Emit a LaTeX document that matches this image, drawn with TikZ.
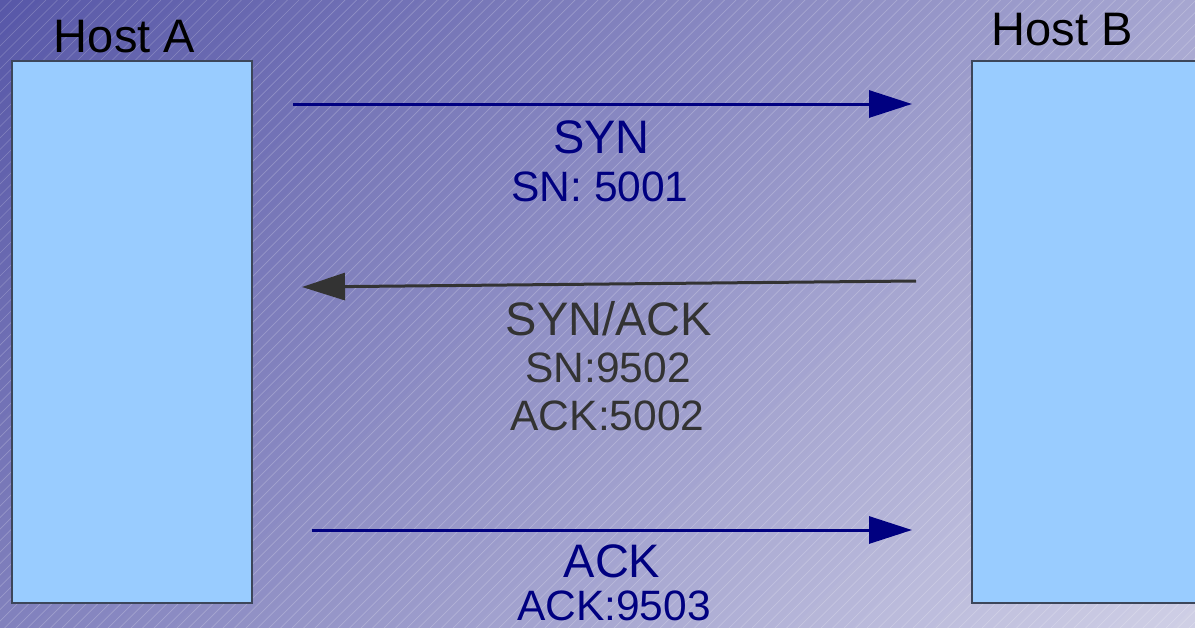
\documentclass[tikz,border=0pt]{standalone}
\usepackage{fontspec}
\setmainfont{Liberation Sans}
\usetikzlibrary{arrows.meta}
\definecolor{bgA}{RGB}{88,88,168}
\definecolor{bgB}{RGB}{208,208,230}
\definecolor{hostfill}{RGB}{153,204,255}
\definecolor{hostedge}{RGB}{60,70,90}
\definecolor{navyc}{RGB}{0,0,128}
\definecolor{darkc}{RGB}{51,51,51}
\tikzset{
  hostbox/.style={draw=hostedge, line width=1.2pt, fill=hostfill, inner sep=0pt,
    minimum width=240pt, minimum height=542pt},
  biglabel/.style={anchor=base, inner sep=0pt, font=\fontsize{47}{56}\selectfont},
  smalllabel/.style={anchor=base, inner sep=0pt, font=\fontsize{42.5}{51}\selectfont},
  msgarrow/.style={line width=3pt, -{Triangle[length=43pt,width=27pt]}},
}
\begin{document}
\begin{tikzpicture}[x=1pt,y=-1pt]
\useasboundingbox (0,0) rectangle (1195,627);
% background gradient along the diagonal, with hatching
\begin{scope}
\clip (0,0) rectangle (1195,627);
\foreach \i in {0,...,91}{
  \pgfmathsetmacro{\tA}{\i*20}
  \pgfmathsetmacro{\tB}{\i*20+21}
  \pgfmathsetmacro{\pc}{100-\i*100/91}
  \colorlet{stripc}{bgA!\pc!bgB}
  \fill[stripc] (\tA,0) -- (\tB,0) -- (\tB-700,700) -- (\tA-700,700) -- cycle;
}
\foreach \i in {0,...,160}{
  \pgfmathsetmacro{\hx}{\i*11.5}
  \draw[white, opacity=0.22, line width=0.7pt] (\hx,0) -- (\hx-700,700);
}
\end{scope}
% hosts
\node[hostbox] (hostA) at (132,332) {};
\node[hostbox] (hostB) at (1092,332) {};
\node[biglabel] (labA) at (124.5,52) {Host A};
\node[biglabel] (labB) at (1062,45) {Host B};
% arrow end points
\coordinate (s1) at (293,104);
\coordinate (e1) at (912,104);
\coordinate (s2) at (916,281);
\coordinate (e2) at (302,287);
\coordinate (s3) at (312,530);
\coordinate (e3) at (912,530);
\draw[msgarrow, navyc] (s1) -- (e1);
\draw[msgarrow, darkc] (s2) -- (e2);
\draw[msgarrow, navyc] (s3) -- (e3);
% message labels
\node[biglabel, navyc] (syn) at (601.5,153) {SYN};
\node[smalllabel, navyc] (synsn) at (600,201) {SN: 5001};
\node[biglabel, darkc] (synack) at (609,335) {SYN/ACK};
\node[smalllabel, darkc] (sasn) at (608,382) {SN:9502};
\node[smalllabel, darkc] (saack) at (607.5,430) {ACK:5002};
\node[biglabel, navyc] (ack) at (612,577) {ACK};
\node[smalllabel, navyc] (ackn) at (614,620) {ACK:9503};
\end{tikzpicture}
\end{document}
